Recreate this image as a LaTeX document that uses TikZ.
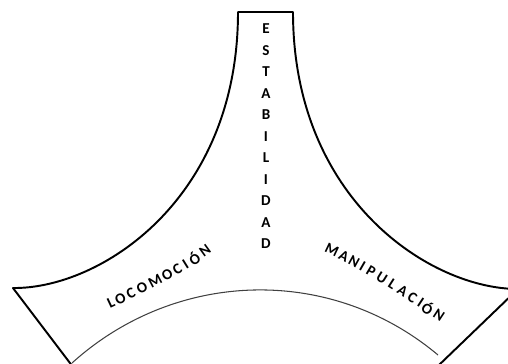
\documentclass[tikz,border=0pt]{standalone}
\usepackage{fontspec}
\setsansfont{Carlito}
\usetikzlibrary{positioning,calc}

\begin{document}
\begin{tikzpicture}[
    x=0.02cm, y=-0.02cm,
    outline/.style={line width=1.1pt, line join=round},
    innerarc/.style={line width=0.6pt, black!75},
    letter/.style={font=\sffamily\bfseries\fontsize{8.6}{10}\selectfont, inner sep=0pt}
]
\useasboundingbox (0,0) rectangle (508,363);
\clip (0,0) rectangle (508,363);

% Corners of the shape
\coordinate (topleft) at (238,12);
\coordinate (topright) at (293,12);
\coordinate (lefttip) at (13,288);
\coordinate (righttip) at (518,289);
\coordinate (leftfoot) at (73,367);
\coordinate (rightfoot) at (439,365);

% Outline
\draw[outline] (leftfoot) -- (lefttip)
    .. controls (100,289) and (238,200) .. (topleft) -- (topright)
    .. controls (293,200) and (431,289) .. (righttip) -- (rightfoot);

% Inner arc
\coordinate (arcstart) at (72,363);
\coordinate (arcend) at (438,355);
\draw[innerarc] (arcstart) .. controls (176,269) and (331,265) .. (arcend);

% Labels
\foreach \l [count=\i from 0] in {E,S,T,A,B,I,L,I,D,A,D}
    \node[letter] (est-\i) at (266,{29+21.5*\i}) {\l};

\path (111,303) .. controls (143,288) and (176,272) .. (205,251)
    \foreach \l/\p [count=\i] in {L/0,O/0.098,C/0.207,O/0.321,M/0.46,O/0.584,C/0.694,I/0.783,Ó/0.876,N/1}
    {node[letter, sloped, pos=\p] (loc-\i) {\l}};

\path (332,250) .. controls (370,268) and (404,292) .. (439,315)
    \foreach \l/\p [count=\i] in {M/0,A/0.105,N/0.197,I/0.276,P/0.355,U/0.454,L/0.556,A/0.652,C/0.746,I/0.826,Ó/0.893,N/1}
    {node[letter, sloped, pos=\p] (man-\i) {\l}};

\end{tikzpicture}
\end{document}
